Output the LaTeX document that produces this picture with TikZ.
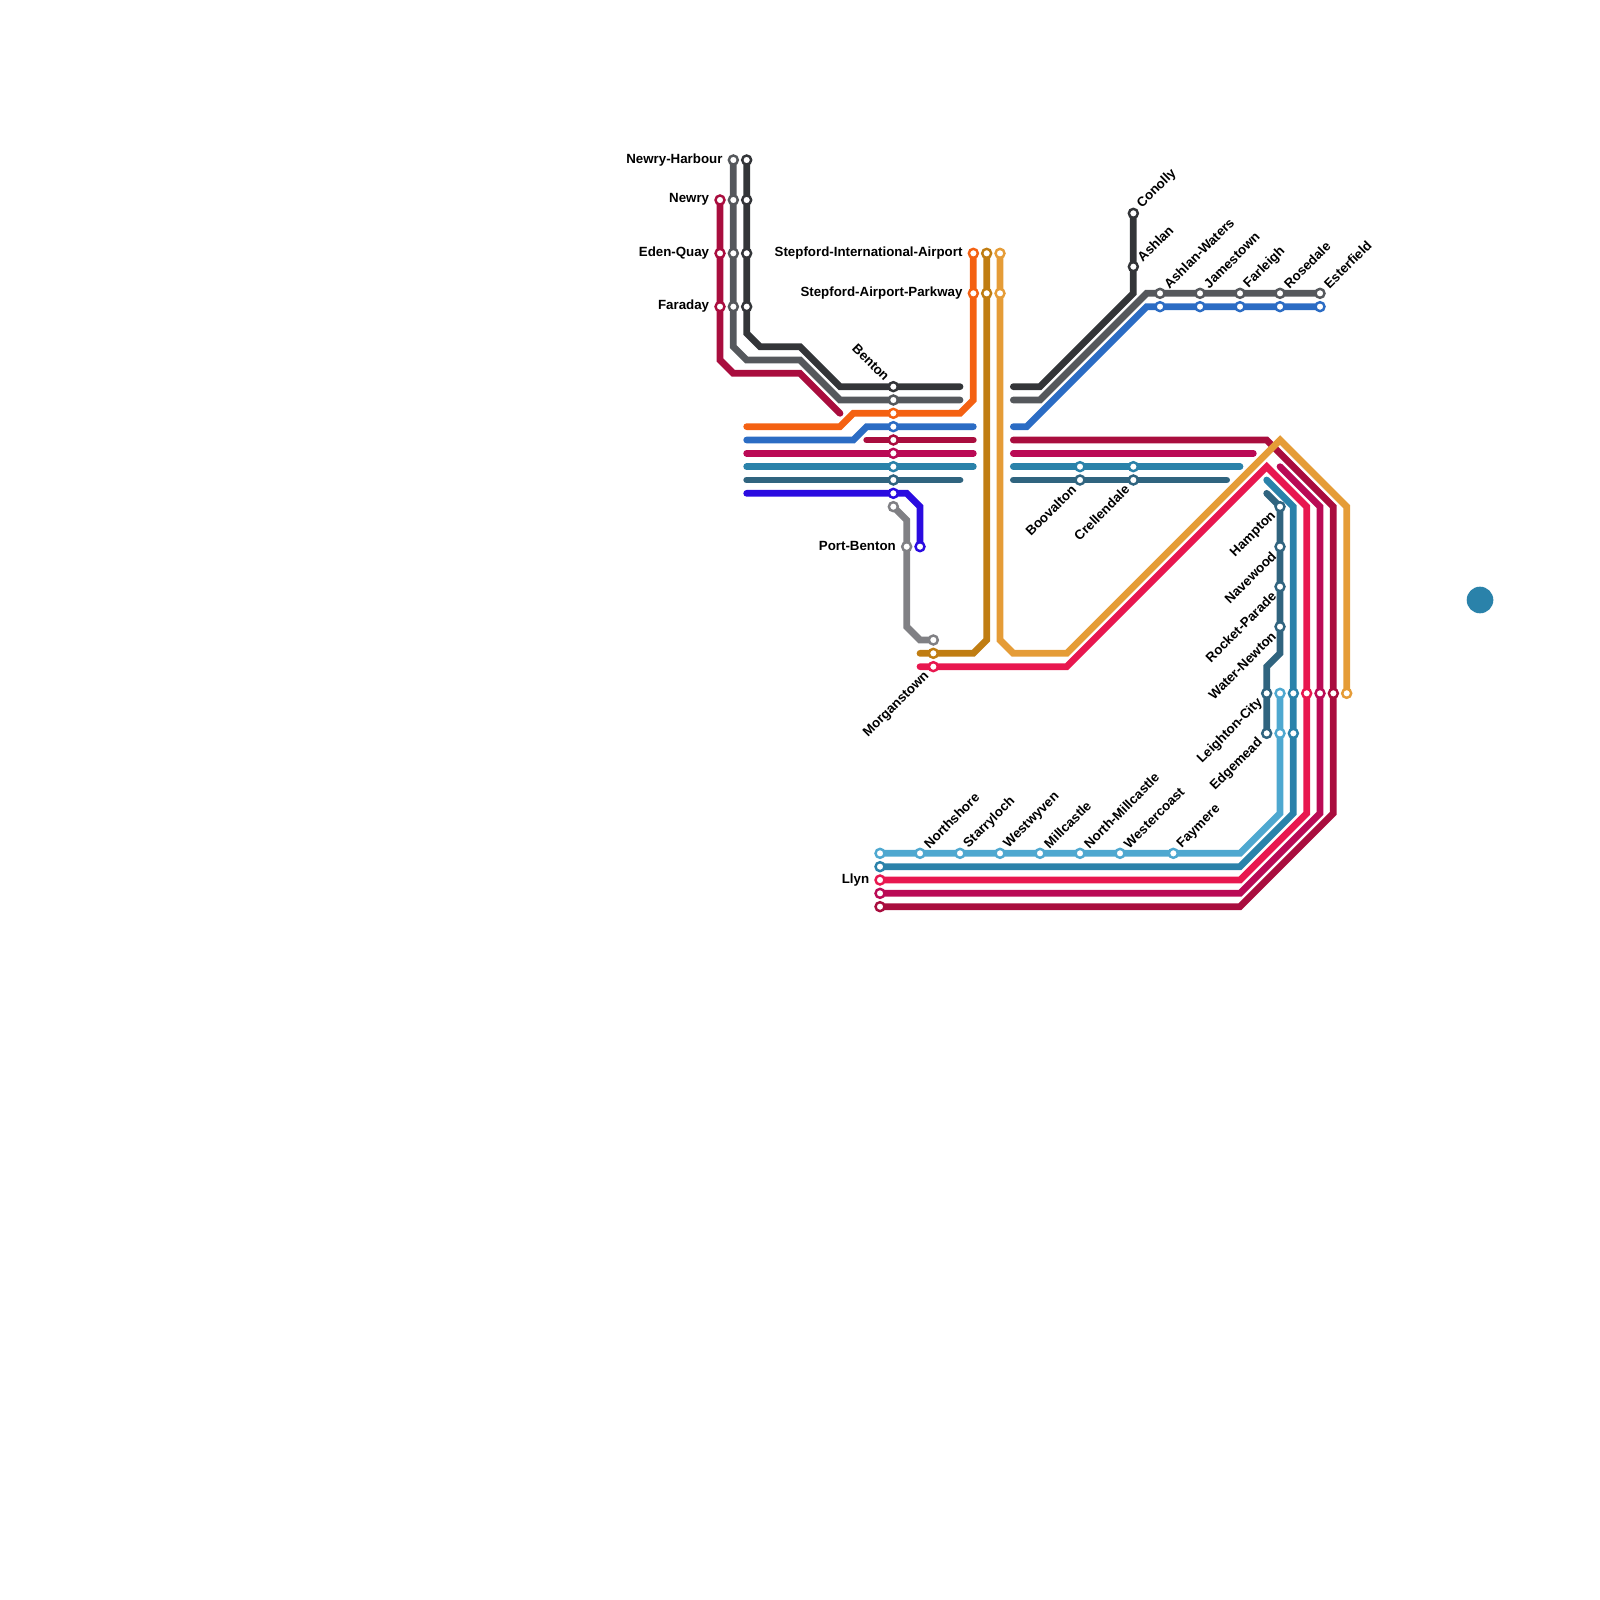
\documentclass[tikz,border=0pt]{standalone}
\usepackage{fontspec}
\setmainfont{Liberation Sans}
\usetikzlibrary{backgrounds}

\definecolor{lineDark}{HTML}{333538}
\definecolor{lineGray}{HTML}{55585C}
\definecolor{lineCrimson}{HTML}{A90D3E}
\definecolor{lineOrange}{HTML}{F46112}
\definecolor{lineBlue}{HTML}{2B6CC4}
\definecolor{lineMagenta}{HTML}{BA0A55}
\definecolor{lineTeal}{HTML}{2A82AA}
\definecolor{lineSteel}{HTML}{30647F}
\definecolor{lineViolet}{HTML}{2A0BE0}
\definecolor{lineGrey}{HTML}{808084}
\definecolor{lineGold}{HTML}{C07D12}
\definecolor{lineAmber}{HTML}{E59C37}
\definecolor{linePink}{HTML}{E8174F}
\definecolor{lineLight}{HTML}{4EA8D0}

\tikzset{
    metro/.style={draw=#1, line width=3.6pt, line cap=round, line join=miter},
    stn/.style={circle, draw=#1, fill=white, line width=1.3pt, inner sep=0pt, minimum size=4.8pt},
    lbl/.style={font=\bfseries\fontsize{7.1}{9}\selectfont, inner sep=0pt},
    lblW/.style={lbl, anchor=east, xshift=-5.6pt, yshift=0.2pt},
    lblUp/.style={lbl, anchor=west, shift={(3.2pt,3.8pt)}, rotate=45},
    lblDn/.style={lbl, anchor=east, shift={(-3.2pt,-3.8pt)}, rotate=45},
    lblBack/.style={lbl, anchor=east, shift={(-3.2pt,4.2pt)}, rotate=-45}
}

\begin{document}
\begin{tikzpicture}[x=0.25cm, y=-0.25cm]
    \useasboundingbox (0, 0) rectangle (120, 120);

    % 1. Stations, one list per line
    \foreach \n/\x/\y in {dkHarbour/56/12, dkNewry/56/15, dkEden/56/19, dkFaraday/56/23, dkBenton/67/29, dkConolly/85/16, dkAshlan/85/20}
        \node[stn=lineDark] (\n) at (\x, \y) {};
    \foreach \n/\x/\y in {grHarbour/55/12, grNewry/55/15, grEden/55/19, grFaraday/55/23, grBenton/67/30, grWaters/87/22, grJames/90/22, grFarleigh/93/22, grRose/96/22, grEster/99/22}
        \node[stn=lineGray] (\n) at (\x, \y) {};
    \foreach \n/\x/\y in {crNewry/54/15, crEden/54/19, crFaraday/54/23, crBenton/67/33, crEast/100/52, crLyn/66/68}
        \node[stn=lineCrimson] (\n) at (\x, \y) {};
    \foreach \n/\x/\y in {orStepInt/73/19, orStepPark/73/22, orBenton/67/31}
        \node[stn=lineOrange] (\n) at (\x, \y) {};
    \foreach \n/\x/\y in {blBenton/67/32, blWaters/87/23, blJames/90/23, blFarleigh/93/23, blRose/96/23, blEster/99/23}
        \node[stn=lineBlue] (\n) at (\x, \y) {};
    \foreach \n/\x/\y in {mgBenton/67/34, mgEast/99/52, mgLyn/66/67}
        \node[stn=lineMagenta] (\n) at (\x, \y) {};
    \foreach \n/\x/\y in {tlBenton/67/35, tlBoov/81/35, tlCrel/85/35, tlLeighton/97/52, tlEdge/97/55, tlLyn/66/65}
        \node[stn=lineTeal] (\n) at (\x, \y) {};
    \foreach \n/\x/\y in {stBenton/67/36, stBoov/81/36, stCrel/85/36, stHampton/96/38, stNave/96/41, stRocket/96/44, stWater/96/47, stLeighton/95/52, stEdge/95/55}
        \node[stn=lineSteel] (\n) at (\x, \y) {};
    \foreach \n/\x/\y in {vtBenton/67/37, vtEnd/69/41}
        \node[stn=lineViolet] (\n) at (\x, \y) {};
    \foreach \n/\x/\y in {gyBenton/67/38, gyPort/68/41, gyEnd/70/48}
        \node[stn=lineGrey] (\n) at (\x, \y) {};
    \foreach \n/\x/\y in {gdStepInt/74/19, gdStepPark/74/22, gdMorgan/70/49}
        \node[stn=lineGold] (\n) at (\x, \y) {};
    \foreach \n/\x/\y in {amStepInt/75/19, amStepPark/75/22, amEast/101/52}
        \node[stn=lineAmber] (\n) at (\x, \y) {};
    \foreach \n/\x/\y in {pkMorgan/70/50, pkEast/98/52, pkLyn/66/66}
        \node[stn=linePink] (\n) at (\x, \y) {};
    \foreach \n/\x/\y in {ltLeighton/96/52, ltEdge/96/55, ltNorth/69/64, ltStarry/72/64, ltWest/75/64, ltMill/78/64, ltNMill/81/64, ltCoast/84/64, ltFay/88/64, ltLyn/66/64}
        \node[stn=lineLight] (\n) at (\x, \y) {};

    % Free line ends
    \foreach \n/\x/\y in {dkW/72/29, dkE/76/29, grW/72/30, grE/76/30, crA/63/31, crB/65/33, crC/73/33, crD/76/33,
        orW/56/32, blA/56/33, blB/73/32, blC/76/32, mgA/56/34, mgB/73/34, mgC/76/34, mgD/94/34, mgF/96/35,
        tlA/56/35, tlB/73/35, tlC/76/35, tlD/93/35, tlF/95/36, stA/56/36, stB/72/36, stC/76/36, stD/92/36, stF/95/37,
        vtW/56/37, gdW/69/49, pkW/69/50}
        \coordinate (\n) at (\x, \y);

    % 2. The lines go under the stations
    \begin{pgfonlayer}{background}
        \draw[metro=lineDark] (dkHarbour.center) -- (56, 25) -- (57, 26) -- (60, 26) -- (63, 29) -- (dkW);
        \draw[metro=lineDark] (dkE) -- (78, 29) -- (85, 22) -- (dkConolly.center);
        \draw[metro=lineGray] (grHarbour.center) -- (55, 26) -- (56, 27) -- (60, 27) -- (63, 30) -- (grW);
        \draw[metro=lineGray] (grE) -- (78, 30) -- (86, 22) -- (grEster.center);
        \draw[metro=lineCrimson] (crNewry.center) -- (54, 27) -- (55, 28) -- (60, 28) -- (crA);
        \draw[metro=lineCrimson] (crB) -- (crC);
        \draw[metro=lineCrimson] (crD) -- (95, 33) -- (100, 38) -- (100, 61) -- (93, 68) -- (crLyn.center);
        \draw[metro=lineOrange] (orW) -- (63, 32) -- (64, 31) -- (72, 31) -- (73, 30) -- (orStepInt.center);
        \draw[metro=lineBlue] (blA) -- (64, 33) -- (65, 32) -- (blB);
        \draw[metro=lineBlue] (blC) -- (77, 32) -- (86, 23) -- (blEster.center);
        \draw[metro=lineMagenta] (mgA) -- (mgB);
        \draw[metro=lineMagenta] (mgC) -- (mgD);
        \draw[metro=lineMagenta] (mgF) -- (99, 38) -- (99, 61) -- (93, 67) -- (mgLyn.center);
        \draw[metro=lineTeal] (tlA) -- (tlB);
        \draw[metro=lineTeal] (tlC) -- (tlD);
        \draw[metro=lineTeal] (tlF) -- (97, 38) -- (97, 61) -- (93, 65) -- (tlLyn.center);
        \draw[metro=lineSteel] (stA) -- (stB);
        \draw[metro=lineSteel] (stC) -- (stD);
        \draw[metro=lineSteel] (stF) -- (96, 38) -- (96, 49) -- (95, 50) -- (stEdge.center);
        \draw[metro=lineViolet] (vtW) -- (68, 37) -- (69, 38) -- (vtEnd.center);
        \draw[metro=lineGrey] (gyBenton.center) -- (68, 39) -- (68, 47) -- (69, 48) -- (gyEnd.center);
        \draw[metro=lineGold] (gdStepInt.center) -- (74, 48) -- (73, 49) -- (gdW);
        \draw[metro=linePink] (pkW) -- (80, 50) -- (95, 35) -- (98, 38) -- (98, 61) -- (93, 66) -- (pkLyn.center);
        \draw[metro=lineLight] (ltLeighton.center) -- (96, 61) -- (93, 64) -- (ltLyn.center);
        \draw[metro=lineAmber] (amStepInt.center) -- (75, 48) -- (76, 49) -- (80, 49) -- (96, 33) -- (101, 38) -- (amEast.center);
    \end{pgfonlayer}

    % 3. Station names
    \node[lblW] (tHarbour) at (grHarbour) {Newry-Harbour};
    \node[lblW] (tNewry) at (crNewry) {Newry};
    \node[lblW] (tEden) at (crEden) {Eden-Quay};
    \node[lblW] (tFaraday) at (crFaraday) {Faraday};
    \node[lblW] (tStepInt) at (orStepInt) {Stepford-International-Airport};
    \node[lblW] (tStepPark) at (orStepPark) {Stepford-Airport-Parkway};
    \node[lblW] (tPort) at (gyPort) {Port-Benton};
    \node[lblW] (tLyn) at (pkLyn) {Llyn};
    \node[lblBack] (tBenton) at (dkBenton) {Benton};

    \foreach \n/\s/\t in {tConolly/dkConolly/Conolly, tAshlan/dkAshlan/Ashlan, tWaters/grWaters/Ashlan-Waters, tJames/grJames/Jamestown,
        tFarleigh/grFarleigh/Farleigh, tRose/grRose/Rosedale, tEster/grEster/Esterfield, tNorth/ltNorth/Northshore, tStarry/ltStarry/Starryloch,
        tWest/ltWest/Westwyven, tMill/ltMill/Millcastle, tNMill/ltNMill/North-Millcastle, tCoast/ltCoast/Westercoast, tFay/ltFay/Faymere}
        \node[lblUp] (\n) at (\s) {\t};

    \foreach \n/\s/\t in {tMorgan/pkMorgan/Morganstown, tBoov/stBoov/Boovalton, tCrel/stCrel/Crellendale, tHampton/stHampton/Hampton,
        tNave/stNave/Navewood, tRocket/stRocket/Rocket-Parade, tWater/stWater/Water-Newton, tLeighton/stLeighton/Leighton-City, tEdge/stEdge/Edgemead}
        \node[lblDn] (\n) at (\s) {\t};

    % 4. Loose dot on the right
    \node[circle, fill=lineTeal, inner sep=0pt, minimum size=14.2pt] (dot) at (111, 45) {};
\end{tikzpicture}
\end{document}
